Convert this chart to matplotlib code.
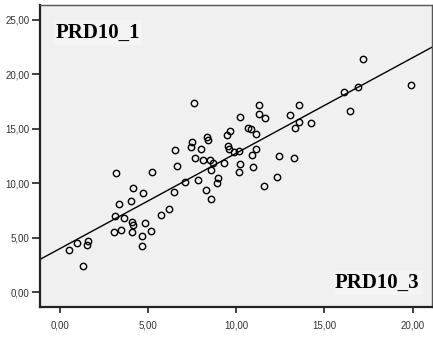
import matplotlib
matplotlib.use("Agg")
import matplotlib.pyplot as plt
from matplotlib.ticker import FuncFormatter
import numpy as np

# Scores: PRD10_3 (x) against PRD10_1 (y)
prd10_3 = [0.53, 0.96, 1.61, 1.55, 1.31, 3.12, 3.65, 4.09, 4.13, 4.84,
           3.05, 3.48, 4.07, 5.15, 4.62, 4.62, 5.75, 6.19, 3.35, 4.03,
           4.73, 4.13, 6.47, 3.18, 5.20, 6.64, 6.53, 7.08, 7.81, 8.95,
           8.89, 8.29, 8.57, 7.66, 8.10, 8.51, 8.70, 8.57, 9.31, 9.52,
           9.61, 9.84, 10.14, 11.10, 10.91, 10.18, 10.14, 10.97, 12.41, 12.30,
           11.58, 13.28, 7.47, 7.42, 7.98, 8.32, 8.40, 9.46, 9.65, 10.65,
           10.84, 11.09, 10.18, 7.60, 11.26, 11.31, 11.60, 13.02, 13.30, 13.55,
           13.55, 14.26, 16.12, 16.44, 16.91, 17.16, 19.92]
prd10_1 = [3.88, 4.49, 4.68, 4.31, 2.41, 7.03, 6.79, 6.42, 6.15, 6.39,
           5.50, 5.74, 5.50, 5.62, 5.19, 4.28, 7.09, 7.61, 8.07, 8.38,
           9.11, 9.57, 9.23, 10.94, 11.00, 11.62, 13.10, 10.12, 10.27, 10.49,
           10.00, 9.36, 8.53, 12.29, 12.14, 12.14, 11.89, 11.19, 11.83, 13.45,
           13.15, 12.84, 12.96, 13.15, 12.57, 11.74, 11.00, 11.50, 12.53, 10.61,
           9.78, 12.29, 13.82, 13.30, 13.12, 14.22, 13.97, 14.46, 14.77, 15.10,
           14.98, 14.52, 16.11, 17.34, 17.16, 16.33, 16.02, 16.24, 15.05, 17.21,
           15.60, 15.53, 18.38, 16.66, 18.81, 21.43, 18.99]

# Linear fit line (intercept, slope)
fit_intercept = 4.02
fit_slope = 0.876

x_ticks = [0, 5, 10, 15, 20]
y_ticks = [0, 5, 10, 15, 20, 25]
x_lim = (-1.14, 21.1)
y_lim = (-1.32, 26.4)

fig = plt.figure(figsize=(4.33, 3.39), dpi=100)
ax = fig.add_axes([0.0924, 0.0953, 0.9053, 0.8907])
ax.set_facecolor("#f0f0f0")

ax.plot(prd10_3, prd10_1, linestyle="none", marker="o", markersize=4.6,
        markerfacecolor="none", markeredgecolor="black", markeredgewidth=1.0,
        zorder=3)

xs = np.array(x_lim)
ax.plot(xs, fit_intercept + fit_slope * xs, color="black", linewidth=1.0, zorder=2)

ax.set_xlim(*x_lim)
ax.set_ylim(*y_lim)
ax.set_xticks(x_ticks)
ax.set_yticks(y_ticks)
fmt = FuncFormatter(lambda v, p: f"{v:.2f}".replace(".", ","))
ax.xaxis.set_major_formatter(fmt)
ax.yaxis.set_major_formatter(fmt)

for lab in ax.get_xticklabels() + ax.get_yticklabels():
    lab.set_fontfamily("Liberation Sans")
    lab.set_fontsize(7)
    lab.set_color("#333333")
ax.tick_params(axis="x", length=4, width=1.2, color="#222222", pad=6, direction="out")
ax.tick_params(axis="y", length=6, width=1.2, color="#222222", pad=1.5, direction="out")

for side in ("left", "bottom"):
    ax.spines[side].set_linewidth(1.6)
    ax.spines[side].set_color("#222222")
for side in ("top", "right"):
    ax.spines[side].set_linewidth(1.0)
    ax.spines[side].set_color("#555555")

label_box = dict(boxstyle="square,pad=0.1", facecolor="#f4f4f4", edgecolor="none")
ax.text(0.04, 0.908, "PRD10_1", transform=ax.transAxes, ha="left", va="center",
        fontfamily="Liberation Serif", fontweight="bold", fontsize=15, color="black",
        bbox=label_box)
ax.text(0.968, 0.078, "PRD10_3", transform=ax.transAxes, ha="right", va="center",
        fontfamily="Liberation Serif", fontweight="bold", fontsize=15, color="black",
        bbox=label_box)

fig.savefig("out.png", dpi=100, facecolor="white")
